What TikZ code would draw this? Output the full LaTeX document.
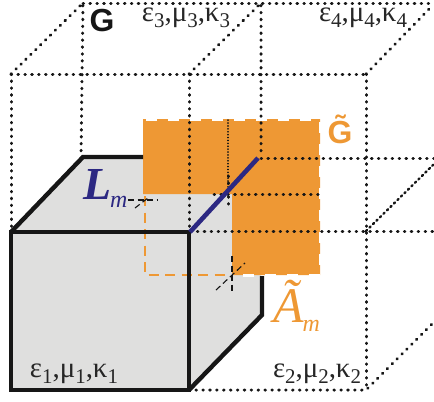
\documentclass[tikz,border=0pt]{standalone}
\usepackage{fontspec}
\setsansfont{Liberation Sans}
\setmainfont{Liberation Serif}
\usepackage{xcolor}
\definecolor{cellgray}{RGB}{223,223,222}
\definecolor{patchorange}{RGB}{238,152,52}
\definecolor{edgeblue}{RGB}{44,40,130}
\definecolor{inkblack}{RGB}{22,22,22}
\usetikzlibrary{positioning}
\tikzset{
  latdots/.style={inkblack, line width=3bp, line cap=round, dash pattern=on 0.6bp off 6.3bp},
  diagdots/.style={inkblack, line width=2.4bp, line cap=round, dash pattern=on 1.5bp off 3.4bp},
  finedots/.style={inkblack, line width=1.4bp, line cap=round, dash pattern=on 0.3bp off 2.6bp},
  cellthick/.style={inkblack, line width=4.4bp, line join=miter},
  patchnotch/.style={white, line width=3bp, dash pattern=on 11bp off 11bp},
  patchdash/.style={patchorange, line width=2.6bp, dash pattern=on 10bp off 6.5bp},
  crossdash/.style={inkblack, line width=1.1bp, dash pattern=on 6bp off 3.5bp},
  matlabel/.style={font=\fontsize{29}{31}\selectfont, text=black!85, inner sep=0pt},
}
\newcommand{\matsub}[1]{\raisebox{-6bp}{\fontsize{21}{21}\selectfont #1}}
\newcommand{\matparams}[1]{ε\matsub{#1},μ\matsub{#1},κ\matsub{#1}}
\begin{document}
\begin{tikzpicture}[x=1bp,y=-1bp]
  \useasboundingbox (0,0) rectangle (434,401);
  % gray cell
  \fill[cellgray] (11,232) -- (83,157) -- (261,157) -- (261,315) -- (189,390) -- (11,390) -- cycle;
  % orange patch
  \fill[patchorange] (143,119) -- (320,119) -- (320,275) -- (232,275) -- (232,194) -- (143,194) -- cycle;
  \draw[patchnotch] (146,119.5) -- (320,119.5);
  \draw[patchnotch] (320.5,122) -- (320.5,275);
  \draw[patchnotch] (320,275.5) -- (232,275.5);
  \draw[patchdash] (145,196) -- (145,275) -- (228,275);
  % thick edges
  \draw[cellthick] (189,232) -- (11,232) -- (11,390) -- (189,390) -- cycle;
  \draw[cellthick] (11,232) -- (83,157) -- (143,157);
  \draw[cellthick] (189,390) -- (262,315) -- (262,276);
  % lattice, back
  \draw[latdots] (83,3) -- (430,3);
  \draw[latdots] (11,74) -- (83,3) -- (81,157);
  \draw[latdots] (189,74) -- (261,3) -- (261,157);
  \draw[latdots] (366,74) -- (433,5);
  \draw[latdots] (261,158) -- (434,158);
  % lattice, front
  \draw[latdots] (11,74) -- (366,74);
  \draw[latdots] (11,74) -- (11,232);
  \draw[latdots] (189,74) -- (189,232) -- (189,390);
  \draw[latdots] (366,74) -- (366,390);
  \draw[latdots] (11,231) -- (434,231);
  \draw[latdots] (189,390) -- (366,390) -- (434,322);
  \draw[diagdots] (366,231) -- (434,164);
  % inner lines
  \draw[latdots] (214,194) -- (320,194);
  \draw[finedots] (228,120) -- (228,194);
  \draw[latdots] (228,176) -- (228,209);
  % edge
  \draw[edgeblue, line width=4.6bp] (190,232) -- (258,158);
  % crosses
  \draw[crossdash] (128,200) -- (158,200);
  \draw[crossdash] (135,208) -- (148,198);
  \draw[crossdash] (232,256) -- (232,294);
  \draw[crossdash] (216,290) -- (245,263);
  % labels
  \node[font=\sffamily\bfseries\fontsize{32}{34}\selectfont, text=inkblack, inner sep=0pt] (gridlabel) at (102,21) {G};
  \node[font=\sffamily\bfseries\fontsize{32}{34}\selectfont, text=patchorange, inner sep=0pt, anchor=base] (patchlabel) at (340,143) {\~{G}};
  \node[matlabel] (matthree) at (186,18) {\matparams{3}};
  \node[matlabel] (matfour) at (363,18) {\matparams{4}};
  \node[matlabel] (matone) at (74,374) {\matparams{1}};
  \node[matlabel] (mattwo) at (317,374) {\matparams{2}};
  \node[font=\bfseries\itshape\fontsize{46}{48}\selectfont, text=edgeblue, inner sep=0pt, anchor=base west] (edgelabel) at (83,199) {L\kern-1bp\raisebox{-8bp}{\fontsize{24}{24}\selectfont\mdseries m}};
  \node[font=\itshape\fontsize{50}{52}\selectfont, text=patchorange, inner sep=0pt, anchor=base west] (arealabel) at (273,322) {\~{A}\kern-1bp\raisebox{-9bp}{\fontsize{24}{24}\selectfont m}};
\end{tikzpicture}
\end{document}
